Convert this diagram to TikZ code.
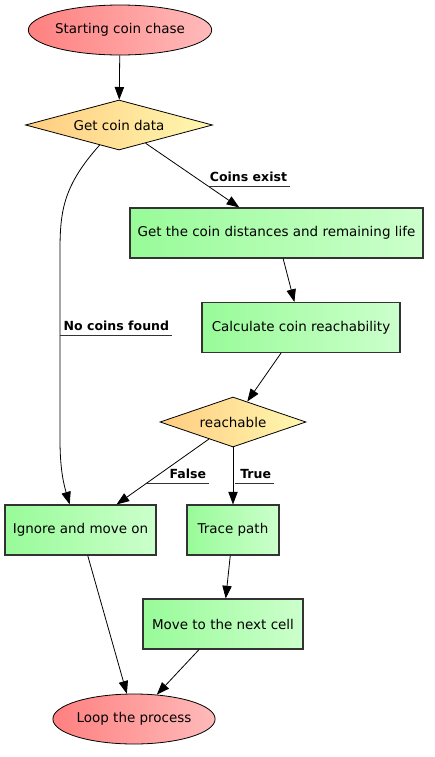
\documentclass[tikz,border=0pt]{standalone}
\usepackage{fontspec}
\setmainfont{DejaVu Sans}
\usepackage{xcolor}
\usepackage{tikz}
\usetikzlibrary{positioning,calc,arrows.meta,shapes.geometric}
\definecolor{termL}{HTML}{FF8080}
\definecolor{termR}{HTML}{FFBABA}
\definecolor{decL}{HTML}{FFCC80}
\definecolor{decR}{HTML}{FFF8B0}
\definecolor{stepL}{HTML}{98FB98}
\definecolor{stepR}{HTML}{CCFFCC}
\definecolor{edgegray}{HTML}{333333}

\begin{document}
\begin{tikzpicture}[
    x=0.75pt, y=-0.75pt,
    every node/.style={font=\fontsize{10.1}{12}\selectfont},
    term/.style={ellipse, draw, semithick, inner sep=0pt, minimum width=#1, minimum height=37.5pt, left color=termL, right color=termR},
    decision/.style={diamond, draw, semithick, inner sep=0pt, aspect=3, minimum width=#1, minimum height=37.5pt, left color=decL, right color=decR},
    stepbox/.style={rectangle, draw=edgegray, thick, inner sep=0pt, minimum width=#1, minimum height=37.5pt, left color=stepL, right color=stepR},
    lbl/.style={font=\fontsize{9.4}{12}\selectfont\bfseries, anchor=south east, inner xsep=2pt, inner ysep=3pt},
    uline/.style={draw=edgegray, semithick},
    arrow/.style={-{Triangle[length=9.5pt, width=7pt]}, semithick},
]
\useasboundingbox (0,0) rectangle (435,757);

% Start and first check
\node[term=129.75pt] (start) at (120,30) {Starting coin chase};
\node[decision=140.25pt] (data) at (119,125) {Get coin data};

% Coins exist branch
\node[stepbox=219.75pt] (dist) at (276.5,233) {Get the coin distances and remaining life};
\node[stepbox=148.5pt] (calc) at (301,327.5) {Calculate coin reachability};
\node[decision=109.5pt] (reach) at (233,422) {reachable};

% Outcomes
\node[stepbox=113.25pt] (ignore) at (80.5,530) {Ignore and move on};
\node[stepbox=69pt] (trace) at (233,530) {Trace path};
\node[stepbox=120pt] (move) at (223,624) {Move to the next cell};
\node[term=120pt] (loop) at (134,719) {Loop the process};

% Arrows
\draw[arrow] (start) -- (data);
\draw[arrow] (data) -- (dist);
\draw[arrow] (data.-134) .. controls (64,185) and (60,210) .. (60,250) -- (60,440) .. controls (60,470) and (64,485) .. (ignore.113);
\draw[arrow] (dist) -- (calc);
\draw[arrow] (calc.-128) -- (reach);
\draw[arrow] (reach) -- (ignore);
\draw[arrow] (reach) -- (trace);
\draw[arrow] (ignore) -- (loop);
\draw[arrow] (trace) -- (move);
\draw[arrow] (move) -- (loop);

% Labels
\node[lbl] (coinsexist) at (290,186) {Coins exist};
\draw[uline] (coinsexist.south east) -- ++(-82,0);
\node[lbl] (nocoins) at (172,335) {No coins found};
\draw[uline] (nocoins.south east) -- ++(-112,0);
\node[lbl] (false) at (209,483) {False};
\draw[uline] (false.south east) -- ++(-62,0);
\node[lbl] (true) at (274,483) {True};
\draw[uline] (true.south east) -- ++(-39,0);
\end{tikzpicture}
\end{document}
